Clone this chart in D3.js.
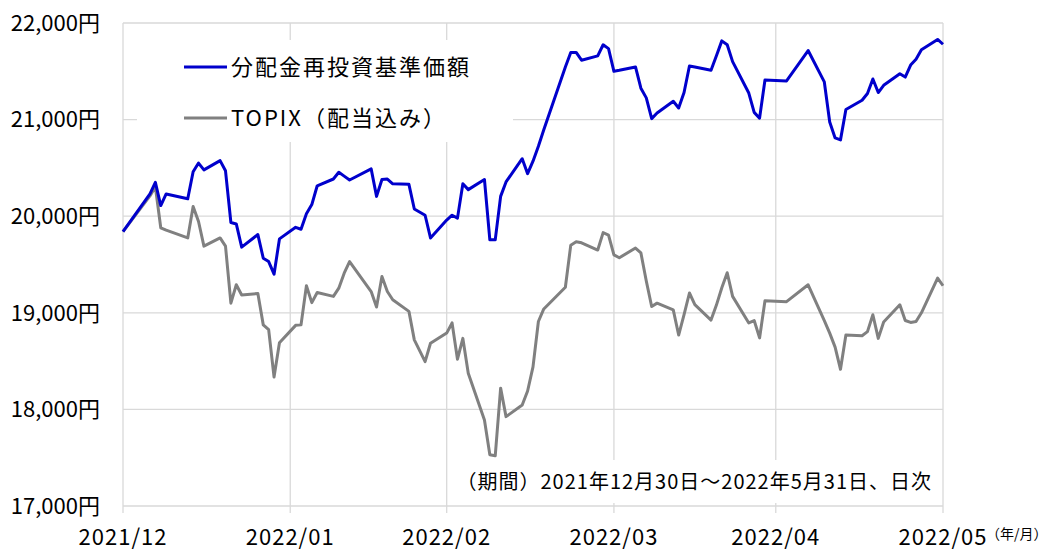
<!DOCTYPE html>
<html>
<head>
<meta charset="utf-8">
<script src="https://cdn.jsdelivr.net/npm/d3@7"></script>
<style>
  body { margin: 0; background: #fff; }
  svg { display: block; font-family: "Noto Sans CJK JP", "Noto Sans", sans-serif; }
</style>
</head>
<body>
<svg id="chart" width="1051" height="550"></svg>
<script>
// trading days, 2021/12/30 - 2022/05/31
let dates = [
  "2021-12-30","2022-01-04","2022-01-05","2022-01-06","2022-01-07","2022-01-11","2022-01-12","2022-01-13","2022-01-14",
  "2022-01-17","2022-01-18","2022-01-19","2022-01-20","2022-01-21","2022-01-24","2022-01-25","2022-01-26","2022-01-27",
  "2022-01-28","2022-01-31","2022-02-01","2022-02-02","2022-02-03","2022-02-04","2022-02-07","2022-02-08","2022-02-09",
  "2022-02-10","2022-02-14","2022-02-15","2022-02-16","2022-02-17","2022-02-18","2022-02-21","2022-02-22","2022-02-24",
  "2022-02-25","2022-02-28","2022-03-01","2022-03-02","2022-03-03","2022-03-04","2022-03-07","2022-03-08","2022-03-09",
  "2022-03-10","2022-03-11","2022-03-14","2022-03-15","2022-03-16","2022-03-17","2022-03-18","2022-03-22","2022-03-23",
  "2022-03-24","2022-03-25","2022-03-28","2022-03-29","2022-03-30","2022-03-31","2022-04-01","2022-04-04","2022-04-05",
  "2022-04-06","2022-04-07","2022-04-08","2022-04-11","2022-04-12","2022-04-13","2022-04-14","2022-04-15","2022-04-18",
  "2022-04-19","2022-04-20","2022-04-21","2022-04-22","2022-04-25","2022-04-26","2022-04-27","2022-04-28","2022-05-02",
  "2022-05-06","2022-05-09","2022-05-10","2022-05-11","2022-05-12","2022-05-13","2022-05-16","2022-05-17","2022-05-18",
  "2022-05-19","2022-05-20","2022-05-23","2022-05-24","2022-05-25","2022-05-26","2022-05-27","2022-05-30","2022-05-31"
];

// 分配金再投資基準価額
let fundValues = [
  19840,20230,20350,20110,20230,20180,20460,20550,20480,
  20575,20470,19935,19920,19680,19810,19565,19530,19400,
  19765,19885,19865,20025,20120,20315,20385,20455,20415,
  20375,20490,20205,20380,20385,20335,20330,20075,20010,
  19775,19960,20010,19980,20335,20275,20380,19755,19755,
  20205,20355,20595,20440,20570,20725,20895,21545,21695,
  21695,21615,21660,21775,21735,21500,21510,21545,21325,
  21225,21010,21068,21190,21120,21280,21555,21545,21510,
  21660,21815,21775,21600,21275,21075,21015,21410,21400,
  21715,21390,20975,20810,20790,21105,21200,21270,21420,
  21280,21355,21475,21440,21565,21625,21723,21830,21780
];

// TOPIX（配当込み）
let topixValues = [
  19840,20210,20305,19880,19855,19775,20100,19945,19690,
  19775,19690,19100,19290,19185,19200,18875,18825,18335,
  18690,18870,18875,19280,19105,19210,19170,19255,19410,
  19530,19220,19060,19375,19220,19135,19015,18720,18495,
  18685,18790,18895,18520,18735,18375,17890,17530,17520,
  18220,17925,18045,18190,18440,18910,19040,19265,19700,
  19735,19725,19650,19830,19805,19600,19570,19670,19620,
  19330,19065,19100,19030,18770,18980,19205,19085,18925,
  19080,19260,19415,19170,18895,18920,18740,19125,19115,
  19290,18920,18790,18645,18415,18770,18763,18805,18980,
  18735,18905,19083,18920,18900,18910,19000,19360,19280
];

let yTicks = [17000, 18000, 19000, 20000, 21000, 22000];
let xTickDates = ["2021-12-30","2022-01-30","2022-02-28","2022-03-31","2022-04-30","2022-05-31"];
let xTickLabels = ["2021/12","2022/01","2022/02","2022/03","2022/04","2022/05"];
let seriesNames = ["分配金再投資基準価額", "TOPIX（配当込み）"];
let seriesColors = ["#0000cc", "#808080"];
let periodNote = "（期間）2021年12月30日～2022年5月31日、日次";

let parse = d3.timeParse("%Y-%m-%d");
let plotL = 123, plotR = 943, plotT = 23, plotB = 506;

let svg = d3.select("#chart");

let x = d3.scaleTime()
  .domain([parse(dates[0]), parse(dates[dates.length - 1])])
  .range([plotL, plotR]);
let y = d3.scaleLinear()
  .domain([17000, 22000])
  .range([plotB, plotT]);

let grid = svg.append("g").attr("stroke", "#d9d9d9").attr("stroke-width", 1.3);

grid.selectAll(".hgrid")
  .data(yTicks)
  .enter().append("line")
  .attr("x1", plotL).attr("x2", plotR)
  .attr("y1", d => y(d)).attr("y2", d => y(d));

grid.selectAll(".vgrid")
  .data(xTickDates)
  .enter().append("line")
  .attr("x1", d => x(parse(d))).attr("x2", d => x(parse(d)))
  .attr("y1", plotT).attr("y2", plotB + 7);

// white boxes behind legend and period note
svg.append("rect").attr("x", 137).attr("y", 40).attr("width", 376).attr("height", 102).style("fill", "#fff");
svg.append("rect").attr("x", 460).attr("y", 460).attr("width", 478).attr("height", 43).style("fill", "#fff");

// y labels
svg.append("g").selectAll("text")
  .data(yTicks)
  .enter().append("text")
  .attr("x", 100)
  .attr("y", d => y(d))
  .attr("dy", "0.35em")
  .attr("text-anchor", "end")
  .style("font-size", "22px")
  .style("fill", "#000")
  .text(d => d3.format(",")(d) + "円");

// x labels
svg.append("g").selectAll("text")
  .data(xTickDates)
  .enter().append("text")
  .attr("x", d => x(parse(d)))
  .attr("y", 545)
  .attr("text-anchor", "middle")
  .style("font-size", "22px")
  .style("letter-spacing", "1px")
  .style("fill", "#000")
  .text((d, i) => xTickLabels[i]);

svg.append("text")
  .attr("x", 986).attr("y", 539)
  .style("font-size", "14px")
  .style("fill", "#000")
  .text("（年/月）");

// lines
let pts = (vals) => dates.map((d, i) => ({date: parse(d), v: vals[i]}));
let line = d3.line().x(d => x(d.date)).y(d => y(d.v));

[topixValues, fundValues].forEach((vals, k) => {
  svg.append("path")
    .datum(pts(vals))
    .attr("d", line)
    .style("fill", "none")
    .style("stroke", seriesColors[1 - k])
    .style("stroke-width", 3)
    .style("stroke-linejoin", "round");
});

// legend
let legend = svg.append("g");
seriesNames.forEach((name, i) => {
  let ly = 67 + i * 51;
  legend.append("line")
    .attr("x1", 184).attr("x2", 227)
    .attr("y1", ly).attr("y2", ly)
    .style("stroke", seriesColors[i])
    .style("stroke-width", 3);
  legend.append("text")
    .attr("x", 231).attr("y", ly)
    .attr("dy", "0.35em")
    .style("font-size", "22px")
    .style("letter-spacing", "2px")
    .style("fill", "#000")
    .text(name);
});

// period note
svg.append("text")
  .attr("x", 932).attr("y", 482)
  .attr("dy", "0.35em")
  .attr("text-anchor", "end")
  .style("font-size", "20px")
  .style("letter-spacing", "1px")
  .style("fill", "#000")
  .text(periodNote);
</script>
</body>
</html>
